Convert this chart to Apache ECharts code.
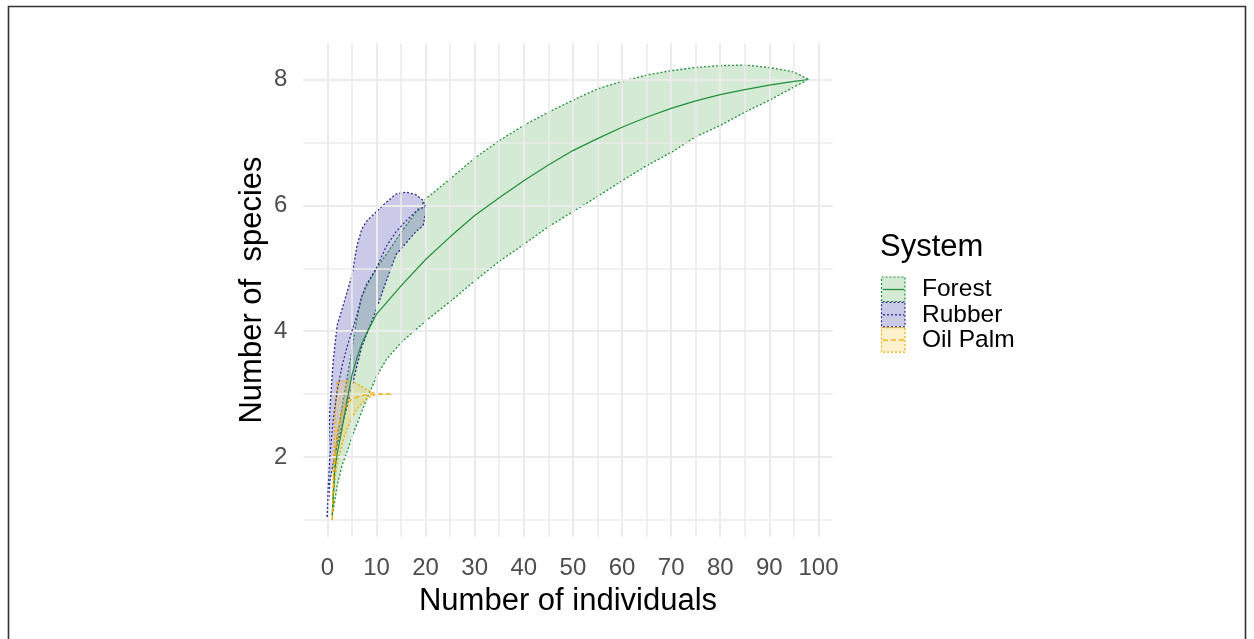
<!DOCTYPE html>
<html><head><meta charset="utf-8">
<script src="https://cdn.jsdelivr.net/npm/echarts@6/dist/echarts.min.js"></script>
<style>html,body{margin:0;padding:0;background:#fff}#c{width:1254px;height:639px}</style>
</head><body><div id="c"></div>
<script>
// ---- tick values ----
const xTicks = [0, 10, 20, 30, 40, 50, 60, 70, 80, 90, 100];
const xMinor = [5, 15, 25, 35, 45, 55, 65, 75, 85, 95];
const yTicks = [2, 4, 6, 8];
const yMinor = [1, 3, 5, 7];
const seriesNames = ['Forest', 'Rubber', 'Oil Palm'];

// ---- Forest ----
const forestX     = [1, 1.5, 2, 3, 4, 5, 6, 7, 8, 10, 12, 15, 20, 25, 30, 35, 40, 45, 50, 55, 60, 65, 70, 75, 80, 85, 90, 95, 98];
const forestMean  = [1.08, 1.8, 2.05, 2.45, 2.9, 3.3, 3.57, 3.8, 3.97, 4.27, 4.45, 4.72, 5.14, 5.5, 5.84, 6.12, 6.39, 6.64, 6.87, 7.06, 7.24, 7.4, 7.54, 7.66, 7.76, 7.84, 7.91, 7.97, 8.0];
const forestLower = [1.08, 1.3, 1.55, 1.87, 2.08, 2.32, 2.52, 2.72, 2.92, 3.28, 3.55, 3.82, 4.16, 4.47, 4.8, 5.11, 5.38, 5.66, 5.9, 6.14, 6.39, 6.63, 6.84, 7.09, 7.27, 7.48, 7.67, 7.88, 8.0];
const forestUpper = [1.08, 1.9, 2.3, 2.8, 3.25, 3.7, 4.2, 4.55, 4.72, 5.0, 5.22, 5.57, 6.1, 6.42, 6.75, 7.03, 7.27, 7.48, 7.67, 7.85, 7.97, 8.07, 8.14, 8.19, 8.22, 8.23, 8.19, 8.12, 8.0];

// ---- Rubber ----
const rubberX     = [0, 0.15, 0.5, 1.2, 2, 3, 4, 5, 6, 7, 8, 10, 12, 14, 16, 18, 19.5, 20];
const rubberMean  = [1.05, 1.5, 2.0, 2.6, 3.05, 3.45, 3.75, 4.0, 4.25, 4.55, 4.75, 5.0, 5.35, 5.58, 5.75, 5.9, 5.97, 6.0];
const rubberLower = [1.05, 1.2, 1.6, 1.9, 2.2, 2.5, 2.8, 3.12, 3.44, 3.75, 3.95, 4.35, 4.8, 5.22, 5.4, 5.58, 5.68, 5.88];
const rubberUpper = [1.05, 1.95, 2.75, 3.54, 4.1, 4.35, 4.62, 4.88, 5.35, 5.62, 5.75, 5.9, 6.05, 6.18, 6.21, 6.17, 6.08, 5.95];

// ---- Oil Palm ----
const palmX     = [1, 1.3, 1.7, 2, 3, 4, 5, 6, 7, 8, 9, 10, 11, 12, 13];
const palmMean  = [1.0, 1.7, 2.1, 2.4, 2.72, 2.85, 2.92, 2.95, 2.98, 2.99, 3.0, 3.0, 3.0, 3.0, 3.0];
const palmLower = [1.0, 1.5, 1.75, 1.9, 2.2, 2.45, 2.62, 2.76, 2.85, 2.93, 2.97, 3.0, 3.0, 3.0, 3.0];
const palmUpper = [1.0, 2.0, 2.9, 3.2, 3.21, 3.21, 3.2, 3.17, 3.12, 3.07, 3.03, 3.0, 3.0, 3.0, 3.0];

const FONT = "'Liberation Sans', Arial, sans-serif";
const colors = {
  Forest:   {line: '#22903a', fill: 'rgba(40,150,40,0.2)',  lineType: 'solid'},
  Rubber:   {line: '#2b2b87', fill: 'rgba(80,80,180,0.3)',  lineType: [2, 2]},
  'Oil Palm': {line: '#f2a900', fill: 'rgba(250,195,30,0.22)', lineType: [5, 3]}
};

function ribbon(name, xs, lo, hi, z) {
  const rows = xs.map((x, i) => [x, lo[i], hi[i]]);
  const c = colors[name];
  return {
    type: 'custom', name: name + ' band', data: rows, z: z, silent: true,
    encode: {x: 0, y: [1, 2]},
    renderItem(params, api) {
      if (params.dataIndex !== 0) return null;
      const up = rows.map(r => api.coord([r[0], r[2]]));
      const dn = rows.map(r => api.coord([r[0], r[1]]));
      return {type: 'group', children: [
        {type: 'polygon', shape: {points: up.concat(dn.slice().reverse())}, style: {fill: c.fill, stroke: null}},
        {type: 'polyline', shape: {points: up}, style: {fill: null, stroke: c.line, lineWidth: 1.3, lineDash: [2, 2]}},
        {type: 'polyline', shape: {points: dn}, style: {fill: null, stroke: c.line, lineWidth: 1.3, lineDash: [2, 2]}}
      ]};
    }
  };
}
function meanLine(name, xs, ys, z) {
  const c = colors[name];
  return {
    type: 'line', name: name, data: xs.map((x, i) => [x, ys[i]]), z: z, silent: true,
    showSymbol: false, symbol: 'none', smooth: false,
    lineStyle: {color: c.line, width: 1.2, type: c.lineType}
  };
}

const gridMarks = [].concat(
  xTicks.map(v => ({xAxis: v, lineStyle: {width: 2}})),
  xMinor.map(v => ({xAxis: v, lineStyle: {width: 1.6}})),
  yTicks.map(v => ({yAxis: v, lineStyle: {width: 2}})),
  yMinor.map(v => ({yAxis: v, lineStyle: {width: 1.6}}))
);

// legend drawn as graphic elements
const legendGraphics = [
  {type: 'text', left: 880, top: 232, style: {text: 'System', font: '31px ' + FONT, fill: '#000'}}
];
seriesNames.forEach((n, i) => {
  const c = colors[n];
  const y0 = 277 + i * 25.3;
  legendGraphics.push({type: 'rect', shape: {x: 881.5, y: y0, width: 23.5, height: 24.5},
    style: {fill: c.fill, stroke: c.line, lineWidth: 1.2, lineDash: [2, 2]}});
  legendGraphics.push({type: 'line', shape: {x1: 883, y1: y0 + 12.5, x2: 904, y2: y0 + 12.5},
    style: {stroke: c.line, lineWidth: 1.3, lineDash: c.lineType === 'solid' ? null : c.lineType}});
  legendGraphics.push({type: 'text', x: 922, y: y0 + 12.5,
    style: {text: n, font: '24.5px ' + FONT, fill: '#000', textVerticalAlign: 'middle', verticalAlign: 'middle'}});
});
// outer frame
legendGraphics.push({type: 'polyline', shape: {points: [[8.5, 645], [8.5, 6.5], [1245.5, 6.5], [1245.5, 645]]},
  style: {stroke: '#333', lineWidth: 1.6, fill: null}});

const chart = echarts.init(document.getElementById('c'), null, {renderer: 'canvas'});
chart.setOption({
  animation: false,
  backgroundColor: '#fff',
  grid: {left: 303.3, right: 421.3, top: 43.3, bottom: 102.3, containLabel: false},
  xAxis: {
    type: 'value', min: -4.9, max: 102.9,
    name: 'Number of individuals', nameLocation: 'middle', nameGap: 48,
    nameTextStyle: {fontSize: 31, color: '#000', fontFamily: FONT},
    axisLine: {show: false}, axisTick: {show: false}, splitLine: {show: false},
    axisLabel: {customValues: xTicks, fontSize: 24, color: '#4d4d4d', fontFamily: FONT, margin: 20}
  },
  yAxis: {
    type: 'value', min: 0.735, max: 8.575,
    name: 'Number of  species', nameLocation: 'middle', nameGap: 35,
    nameTextStyle: {fontSize: 31, color: '#000', fontFamily: FONT},
    axisLine: {show: false}, axisTick: {show: false}, splitLine: {show: false},
    axisLabel: {customValues: yTicks, fontSize: 24, color: '#4d4d4d', fontFamily: FONT, margin: 16}
  },
  graphic: legendGraphics,
  series: [
    {type: 'line', data: [], z: 0, silent: true,
     markLine: {silent: true, symbol: ['none', 'none'], label: {show: false},
       lineStyle: {color: '#ebebeb', type: 'solid'}, data: gridMarks}},
    ribbon('Forest', forestX, forestLower, forestUpper, 2),
    ribbon('Rubber', rubberX, rubberLower, rubberUpper, 3),
    ribbon('Oil Palm', palmX, palmLower, palmUpper, 4),
    meanLine('Forest', forestX, forestMean, 5),
    meanLine('Rubber', rubberX, rubberMean, 6),
    meanLine('Oil Palm', palmX, palmMean, 7)
  ]
});
</script></body></html>
